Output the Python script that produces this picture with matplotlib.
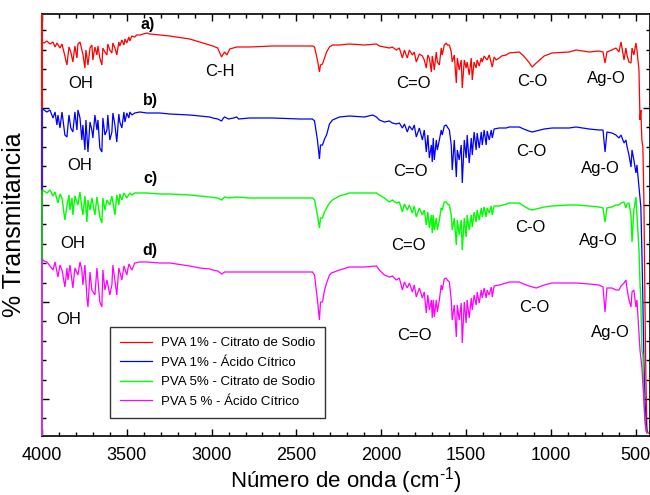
import numpy as np
import matplotlib
matplotlib.use("Agg")
import matplotlib.pyplot as plt
from matplotlib.ticker import MultipleLocator, FixedLocator

plt.rcParams['font.family'] = ['Liberation Sans', 'DejaVu Sans']
plt.rcParams['mathtext.fontset'] = 'custom'
plt.rcParams['mathtext.rm'] = 'Liberation Sans'

# ---------------- data (wavenumber cm-1, transmittance a.u., stacked) ----------------
wn_a = [4000, 3988, 3971, 3953, 3935, 3923, 3912, 3894, 3882, 3865, 3853, 3841, 3830, 3818, 3806, 3794,
        3788, 3776, 3765, 3759, 3747, 3741, 3729, 3717, 3706, 3700, 3688, 3676, 3670, 3659, 3647, 3641,
        3629, 3617, 3612, 3600, 3588, 3582, 3570, 3559, 3547, 3541, 3529, 3517, 3511, 3500, 3488, 3482,
        3470, 3453, 3441, 3423, 3382, 3364, 3305, 3247, 3129, 3070, 3011, 2993, 2964, 2941, 2935, 2923,
        2910, 2893, 2852, 2776, 2640, 2481, 2405, 2393, 2376, 2364, 2358, 2346, 2334, 2322, 2305, 2287,
        2246, 2187, 2099, 2028, 2011, 1981, 1952, 1934, 1911, 1893, 1875, 1863, 1846, 1834, 1816, 1805,
        1793, 1775, 1757, 1746, 1734, 1725, 1716, 1704, 1699, 1693, 1687, 1675, 1669, 1657, 1646, 1640,
        1628, 1616, 1610, 1598, 1587, 1581, 1569, 1557, 1551, 1540, 1528, 1522, 1510, 1499, 1493, 1481,
        1469, 1463, 1452, 1440, 1434, 1422, 1410, 1404, 1393, 1375, 1363, 1345, 1334, 1322, 1304, 1290,
        1263, 1245, 1186, 1160, 1130, 1110, 1086, 1039, 992, 892, 851, 774, 716, 692, 680, 669,
        640, 616, 598, 586, 568, 557, 551, 539, 527, 521, 510, 498, 492, 480, 474, 469,
        463, 457, 451, 445, 439, 433, 425]
t_a = [394, 393, 395, 392, 394, 389, 393, 388, 392, 380, 371, 389, 384, 374, 390, 378,
       392, 394, 386, 382, 368, 386, 371, 388, 391, 376, 389, 381, 390, 378, 371, 388,
       384, 381, 392, 386, 383, 393, 388, 381, 394, 390, 396, 391, 397, 393, 399, 395,
       400, 399, 401, 401, 403, 402, 401, 400, 397, 394, 391, 390, 388, 379, 381, 384,
       381, 387, 389, 389, 390, 390, 390, 389, 376, 364, 371, 372, 378, 384, 389, 391,
       391, 392, 391, 392, 390, 389, 388, 389, 386, 388, 378, 386, 378, 386, 381, 384,
       374, 382, 380, 376, 368, 381, 378, 364, 380, 374, 366, 384, 374, 371, 388, 381,
       391, 393, 391, 391, 384, 374, 381, 353, 378, 366, 376, 348, 376, 368, 374, 361,
       378, 356, 374, 368, 376, 370, 378, 374, 380, 376, 381, 369, 379, 376, 378, 380,
       381, 383, 384, 380, 374, 369, 373, 380, 383, 384, 386, 384, 385, 384, 373, 384,
       386, 388, 384, 394, 376, 388, 381, 374, 373, 388, 381, 393, 386, 366, 316, 326,
       296, 289, 236, 136, 56, 6, 3]

wn_b = [4000, 3988, 3971, 3953, 3935, 3923, 3912, 3906, 3894, 3882, 3865, 3853, 3841, 3830, 3818, 3806,
        3794, 3788, 3776, 3765, 3759, 3747, 3741, 3729, 3717, 3706, 3700, 3688, 3676, 3670, 3659, 3647,
        3641, 3629, 3617, 3612, 3600, 3588, 3582, 3570, 3559, 3547, 3541, 3529, 3517, 3511, 3500, 3488,
        3482, 3470, 3453, 3423, 3382, 3305, 3247, 3129, 3070, 3011, 2993, 2964, 2941, 2930, 2923, 2900,
        2870, 2852, 2840, 2776, 2640, 2481, 2405, 2393, 2376, 2364, 2358, 2346, 2334, 2322, 2305, 2287,
        2246, 2187, 2099, 2050, 2028, 2011, 1981, 1952, 1934, 1911, 1893, 1875, 1863, 1846, 1834, 1816,
        1805, 1793, 1775, 1757, 1746, 1734, 1725, 1716, 1704, 1699, 1693, 1687, 1675, 1669, 1657, 1646,
        1640, 1628, 1616, 1610, 1598, 1587, 1581, 1569, 1557, 1551, 1540, 1528, 1522, 1510, 1499, 1493,
        1481, 1469, 1463, 1452, 1440, 1434, 1422, 1410, 1404, 1393, 1381, 1375, 1363, 1351, 1345, 1334,
        1304, 1263, 1245, 1186, 1160, 1130, 1110, 1086, 1039, 992, 892, 851, 774, 716, 692, 680,
        669, 640, 616, 598, 586, 568, 557, 551, 539, 527, 521, 510, 498, 492, 480, 469,
        463, 457, 451, 445, 439, 433]
t_b = [328, 326, 324, 326, 318, 324, 311, 321, 308, 324, 301, 299, 321, 308, 304, 324,
       306, 326, 318, 296, 311, 286, 316, 284, 314, 306, 298, 321, 306, 316, 288, 284,
       318, 301, 306, 321, 296, 304, 323, 311, 294, 322, 314, 308, 324, 314, 323, 318,
       324, 321, 323, 324, 323, 323, 322, 321, 320, 319, 318, 317, 315, 318, 319, 317,
       318, 319, 317, 318, 318, 317, 317, 315, 296, 277, 291, 291, 297, 301, 312, 316,
       319, 320, 319, 321, 319, 316, 314, 315, 313, 312, 313, 308, 312, 304, 310, 306,
       311, 299, 308, 296, 306, 284, 301, 278, 291, 274, 298, 276, 296, 286, 296, 306,
       301, 310, 311, 309, 306, 291, 266, 296, 259, 286, 276, 291, 253, 296, 278, 301,
       273, 298, 281, 304, 286, 303, 288, 304, 291, 306, 291, 305, 296, 306, 298, 307,
       308, 308, 309, 309, 307, 305, 304, 305, 307, 308, 308, 309, 307, 306, 306, 284,
       304, 303, 301, 298, 301, 293, 296, 290, 281, 269, 286, 276, 263, 271, 249, 229,
       186, 136, 76, 36, 16, 4]

wn_c = [4000, 3988, 3971, 3953, 3935, 3923, 3906, 3894, 3882, 3865, 3853, 3841, 3835, 3823, 3818, 3806,
        3788, 3776, 3765, 3759, 3747, 3735, 3729, 3717, 3706, 3688, 3676, 3659, 3647, 3641, 3629, 3617,
        3600, 3588, 3570, 3559, 3547, 3541, 3529, 3517, 3500, 3482, 3470, 3453, 3423, 3382, 3305, 3247,
        3129, 3070, 3011, 2964, 2941, 2930, 2923, 2900, 2852, 2776, 2640, 2481, 2405, 2393, 2376, 2364,
        2358, 2346, 2334, 2322, 2305, 2287, 2246, 2187, 2099, 2028, 2011, 1981, 1952, 1934, 1911, 1893,
        1875, 1863, 1846, 1834, 1816, 1805, 1793, 1775, 1757, 1746, 1734, 1725, 1716, 1704, 1699, 1693,
        1687, 1675, 1669, 1657, 1646, 1640, 1628, 1616, 1610, 1598, 1587, 1581, 1569, 1557, 1551, 1540,
        1528, 1522, 1510, 1499, 1493, 1481, 1469, 1463, 1452, 1440, 1434, 1422, 1410, 1404, 1393, 1381,
        1375, 1363, 1351, 1345, 1334, 1304, 1263, 1245, 1186, 1160, 1130, 1110, 1086, 1039, 992, 892,
        851, 774, 716, 692, 680, 669, 640, 616, 598, 586, 568, 557, 551, 539, 527, 521,
        510, 498, 492, 480, 474, 469, 463, 457, 451, 445, 439, 433]
t_c = [246, 245, 243, 246, 240, 244, 233, 242, 238, 216, 230, 241, 226, 238, 221, 240,
       231, 244, 228, 221, 240, 214, 236, 226, 238, 221, 239, 219, 213, 238, 226, 236,
       231, 240, 221, 241, 231, 242, 236, 243, 238, 243, 241, 243, 243, 243, 242, 242,
       241, 240, 239, 238, 236, 238, 239, 238, 239, 238, 238, 238, 238, 236, 221, 208,
       218, 218, 224, 228, 233, 236, 240, 243, 243, 243, 241, 238, 234, 236, 233, 234,
       224, 232, 226, 231, 223, 230, 219, 228, 221, 226, 211, 224, 208, 221, 203, 221,
       206, 218, 206, 216, 228, 226, 234, 234, 232, 231, 221, 206, 218, 191, 216, 201,
       216, 186, 218, 199, 221, 206, 221, 209, 224, 214, 226, 216, 228, 219, 229, 219,
       228, 223, 230, 221, 230, 230, 232, 233, 233, 230, 227, 226, 227, 229, 230, 231,
       231, 230, 229, 228, 214, 228, 229, 231, 231, 233, 234, 228, 232, 233, 221, 194,
       226, 239, 221, 186, 153, 136, 86, 81, 36, 16, 6, 3]

wn_d = [4000, 3988, 3971, 3953, 3935, 3923, 3906, 3894, 3882, 3865, 3853, 3847, 3835, 3818, 3806, 3788,
        3776, 3765, 3759, 3747, 3735, 3729, 3717, 3706, 3688, 3676, 3659, 3647, 3641, 3629, 3617, 3600,
        3588, 3582, 3559, 3547, 3529, 3517, 3500, 3488, 3470, 3453, 3423, 3382, 3305, 3247, 3129, 3070,
        3011, 2993, 2964, 2941, 2923, 2852, 2776, 2640, 2481, 2405, 2393, 2376, 2364, 2358, 2346, 2334,
        2322, 2305, 2293, 2246, 2187, 2099, 2028, 2011, 1981, 1952, 1934, 1911, 1893, 1875, 1863, 1846,
        1834, 1816, 1805, 1793, 1775, 1757, 1746, 1734, 1725, 1716, 1704, 1699, 1693, 1687, 1675, 1669,
        1657, 1646, 1640, 1628, 1616, 1610, 1598, 1587, 1581, 1569, 1557, 1551, 1540, 1528, 1522, 1510,
        1499, 1493, 1481, 1469, 1463, 1452, 1440, 1434, 1422, 1410, 1404, 1393, 1381, 1375, 1363, 1351,
        1345, 1334, 1304, 1263, 1245, 1186, 1160, 1130, 1086, 1039, 992, 892, 851, 774, 716, 692,
        680, 669, 640, 616, 598, 586, 568, 557, 551, 539, 527, 521, 510, 498, 492, 480,
        474, 463, 451, 445, 439, 433]
t_d = [177, 175, 174, 170, 166, 174, 159, 171, 166, 149, 168, 156, 171, 148, 168, 161,
       174, 166, 151, 171, 138, 129, 164, 146, 141, 168, 134, 129, 166, 146, 156, 141,
       151, 171, 141, 168, 156, 170, 161, 172, 166, 173, 174, 174, 173, 173, 170, 168,
       167, 166, 165, 162, 164, 164, 164, 164, 164, 164, 161, 136, 116, 134, 134, 146,
       153, 161, 163, 166, 169, 169, 170, 166, 161, 159, 160, 156, 158, 146, 154, 148,
       153, 144, 151, 139, 148, 138, 144, 123, 141, 126, 136, 118, 136, 119, 136, 124,
       136, 151, 146, 157, 158, 156, 154, 136, 116, 131, 99, 131, 116, 133, 93, 134,
       113, 136, 118, 138, 126, 141, 131, 144, 133, 146, 138, 148, 138, 146, 141, 149,
       139, 150, 151, 153, 154, 154, 152, 150, 148, 151, 153, 153, 153, 152, 151, 149,
       124, 148, 148, 146, 146, 150, 153, 156, 148, 136, 129, 144, 146, 129, 136, 103,
       86, 69, 36, 16, 6, 3]

series_labels = ["PVA 1% - Citrato de Sodio", "PVA 1% - Ácido Cítrico",
                 "PVA 5% - Citrato de Sodio", "PVA 5 % - Ácido Cítrico"]
series_colors = ["#FF0000", "#0000FF", "#00FF00", "#FF00FF"]
spine_colors = ["#E01818", "#4A1CB8", "#2FA83A", "#B440C4"]

# ---------------- figure ----------------
fig = plt.figure(figsize=(6.5, 4.95), dpi=100)
ax = fig.add_axes([42 / 650, 1 - 436 / 495, 1 - 42 / 650, (436 - 14) / 495])

data = [(wn_a, t_a), (wn_b, t_b), (wn_c, t_c), (wn_d, t_d)]
lws = [0.9, 0.9, 1.0, 0.9]
for (w, t), c, lab, lw in zip(data, series_colors, series_labels, lws):
    ax.plot(w, t, color=c, lw=lw, label=lab, solid_joinstyle='miter')

ax.set_xlim(4000, 415)
ax.set_ylim(0, 422)

# coloured left axis segments (Origin-style layer colouring)
bounds = [422, t_b[0], t_c[0], t_d[0], 0]
ytr = ax.get_yaxis_transform()
for i, c in enumerate(spine_colors):
    ax.plot([0, 0], [bounds[i], bounds[i + 1]], transform=ytr, color=c, lw=1.6,
            clip_on=False, zorder=5, solid_capstyle='butt')

ax.xaxis.set_major_locator(MultipleLocator(500))
ax.xaxis.set_minor_locator(MultipleLocator(100))
ymaj = np.arange(37, 422, 97)
ymin = np.arange(37 - 19.4, 422, 19.4)
ax.yaxis.set_major_locator(FixedLocator(ymaj))
ax.yaxis.set_minor_locator(FixedLocator(ymin))
ax.tick_params(which='both', direction='in', top=True, right=True, width=1.0)
ax.tick_params(which='major', length=5)
ax.tick_params(which='minor', length=3)
ax.tick_params(axis='y', labelleft=False)
ax.tick_params(axis='x', labelsize=13, pad=8)
for s in ax.spines.values():
    s.set_linewidth(1.2)

ax.set_xlabel('Número de onda (cm$^{\\text{-1}}$)', fontsize=16, labelpad=1)
ax.set_ylabel('% Transmitancia', fontsize=18, labelpad=8)

# panel letters
for txt, x, y in [("a)", 3375, 411), ("b)", 3363, 335), ("c)", 3363, 257), ("d)", 3363, 185)]:
    ax.text(x, y, txt, fontsize=11.5, fontweight='bold', ha='center', va='center')

# band labels
bands = [("OH", 3770, 352), ("C-H", 2951, 364), ("C=O", 1808, 353), ("C-O", 1106, 355), ("Ag-O", 670, 357),
         ("OH", 3776, 270), ("C=O", 1825, 265), ("C-O", 1112, 284), ("Ag-O", 705, 267),
         ("OH", 3817, 193), ("C=O", 1837, 190), ("C-O", 1118, 208), ("Ag-O", 717, 196),
         ("OH", 3841, 116), ("C=O", 1802, 101), ("C-O", 1100, 129), ("Ag-O", 646, 104)]
for txt, x, y in bands:
    ax.text(x, y, txt, fontsize=12, ha='center', va='center')

leg = ax.legend(loc='upper left', bbox_to_anchor=(0.112, 0.258), borderaxespad=0,
                fontsize=9.5, frameon=True, fancybox=False, edgecolor='black',
                handlelength=2.4, labelspacing=0.55, borderpad=0.75, handletextpad=0.7)
leg.get_frame().set_linewidth(1.0)

fig.savefig('out.png', dpi=100)
